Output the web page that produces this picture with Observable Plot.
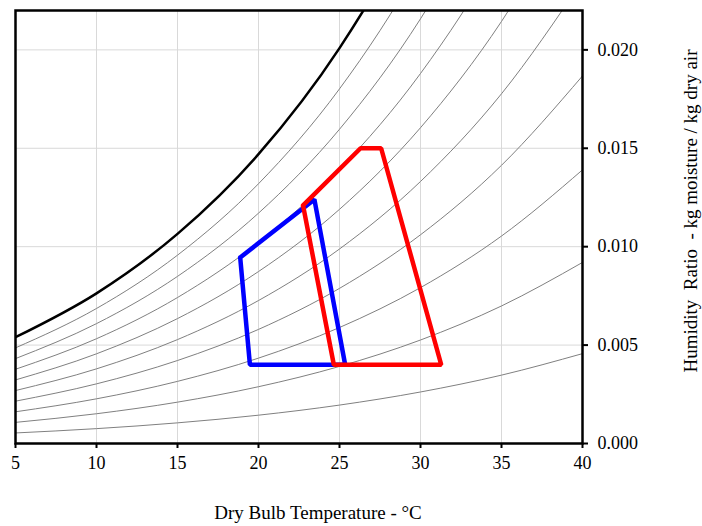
<!DOCTYPE html>
<html><head><meta charset="utf-8">
<script src="https://cdn.jsdelivr.net/npm/d3@7"></script>
<script src="https://cdn.jsdelivr.net/npm/@observablehq/plot@0.6"></script>
<style>body{margin:0;background:#fff} #chart svg{display:block}</style>
</head><body><div id="chart"></div>
<script>
// Dry bulb temperatures (°C) at which the curves are read
const temps = [5, 10, 15, 20, 25, 30, 35, 40];
// Humidity ratio (kg/kg) on the saturation curve and on the relative humidity curves
const saturation = [0.00540, 0.00763, 0.01065, 0.01470, 0.02009, 0.02721, 0.03658, 0.04889];
const rh10 = [0.000536, 0.000755, 0.001049, 0.001439, 0.001952, 0.002618, 0.003474, 0.004566];
const rh20 = [0.001073, 0.001512, 0.002101, 0.002885, 0.003916, 0.005258, 0.006988, 0.009200];
const rh30 = [0.001611, 0.002270, 0.003157, 0.004338, 0.005893, 0.007920, 0.010541, 0.013903];
const rh40 = [0.002150, 0.003031, 0.004217, 0.005797, 0.007882, 0.010605, 0.014135, 0.018677];
const rh50 = [0.002690, 0.003793, 0.005280, 0.007264, 0.009883, 0.013313, 0.017770, 0.023522];
const rh60 = [0.003230, 0.004557, 0.006347, 0.008737, 0.011898, 0.016045, 0.021446, 0.028442];
const rh70 = [0.003772, 0.005323, 0.007417, 0.010217, 0.013925, 0.018800, 0.025165, 0.033437];
const rh80 = [0.004314, 0.006091, 0.008491, 0.011704, 0.015966, 0.021579, 0.028927, 0.038510];
const rh90 = [0.004858, 0.006860, 0.009569, 0.013198, 0.018019, 0.024382, 0.032733, 0.043661];
const rhLabels = ["10%", "20%", "30%", "40%", "50%", "60%", "70%", "80%", "90%"];

// Comfort zones (winter: blue, summer: red)
const blueZoneT = [18.87, 19.47, 25.35, 23.45, 18.87];
const blueZoneW = [0.00945, 0.0040, 0.0040, 0.0124, 0.00945];
const redZoneT = [22.75, 26.3, 27.57, 31.28, 24.65, 22.75];
const redZoneW = [0.0121, 0.0150, 0.0150, 0.0040, 0.0040, 0.0121];

// Axis ticks
const xTicks = [5, 10, 15, 20, 25, 30, 35, 40];
const yTicks = [0, 0.005, 0.010, 0.015, 0.020];
const xGrid = [10, 15, 20, 25, 30, 35];
const yGrid = [0.005, 0.010, 0.015, 0.020];
const xTitle = "Dry Bulb Temperature - °C";
const yTitle = "Humidity\u00a0 Ratio\u00a0 - kg moisture / kg dry air";

const rhSeries = [rh10, rh20, rh30, rh40, rh50, rh60, rh70, rh80, rh90];
const rhData = rhSeries.flatMap((s, i) => s.map((w, j) => ({T: temps[j], W: w, rh: rhLabels[i]})));
const satData = saturation.map((w, j) => ({T: temps[j], W: w}));
const blueData = blueZoneT.map((t, i) => ({T: t, W: blueZoneW[i]}));
const redData = redZoneT.map((t, i) => ({T: t, W: redZoneW[i]}));

const font = "'Liberation Serif', 'Times New Roman', serif";

const chart = Plot.plot({
  width: 702,
  height: 526,
  marginLeft: 15,
  marginRight: 120,
  marginTop: 10,
  marginBottom: 83,
  style: {fontFamily: font, fontSize: "18px", background: "white", color: "black"},
  x: {domain: [5, 40]},
  y: {domain: [0, 0.022]},
  marks: [
    Plot.gridX(xGrid, {stroke: "#d9d9d9", strokeOpacity: 1, strokeWidth: 1}),
    Plot.gridY(yGrid, {stroke: "#d9d9d9", strokeOpacity: 1, strokeWidth: 1}),
    Plot.line(rhData, {x: "T", y: "W", z: "rh", stroke: "#808080", strokeWidth: 1, curve: "monotone-x", clip: true}),
    Plot.line(satData, {x: "T", y: "W", stroke: "black", strokeWidth: 2.5, curve: "monotone-x", clip: true}),
    Plot.line(blueData, {x: "T", y: "W", stroke: "#0000ff", strokeWidth: 4.5, strokeLinejoin: "miter"}),
    Plot.line(redData, {x: "T", y: "W", stroke: "#ff0000", strokeWidth: 4.5, strokeLinejoin: "miter"}),
    Plot.frame({stroke: "black", strokeWidth: 2.5}),
    Plot.axisX({ticks: xTicks, tickSize: 5, tickPadding: 8, strokeWidth: 2, fontSize: 18, label: null}),
    Plot.axisY({anchor: "right", ticks: yTicks, tickFormat: d3.format(".3f"), tickSize: 5, tickPadding: 10, strokeWidth: 2, fontSize: 18, label: null}),
    Plot.text([xTitle], {frameAnchor: "bottom", dy: 75, dx: 19, fontSize: 19, textAnchor: "middle", fill: "black"}),
    Plot.text([yTitle], {frameAnchor: "right", dx: 108, dy: -16, rotate: -90, fontSize: 19, textAnchor: "middle", fill: "black"})
  ]
});
document.getElementById("chart").appendChild(chart);
</script>
</body></html>
